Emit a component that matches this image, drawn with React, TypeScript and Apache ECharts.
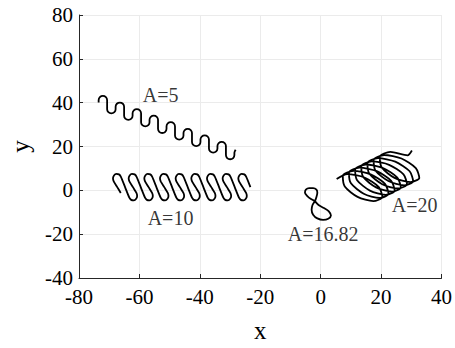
import React, { useEffect, useRef } from "react";
import * as echarts from "echarts";

const A5_X = [
  -73.5, -73.5, -73.09, -72.1, -71.1, -70.69, -70.69, -70.28, -69.29, -68.29,
  -67.88, -67.88, -67.47, -66.48, -65.48, -65.07, -65.07, -64.66, -63.67, -62.67,
  -62.26, -62.26, -61.85, -60.86, -59.86, -59.45, -59.45, -59.04, -58.05, -57.05,
  -56.65, -56.65, -56.24, -55.25, -54.25, -53.84, -53.84, -53.43, -52.44, -51.44,
  -51.03, -51.03, -50.62, -49.63, -48.63, -48.22, -48.22, -47.81, -46.82, -45.82,
  -45.41, -45.41, -45.0, -44.01, -43.01, -42.6, -42.6, -42.19, -41.2, -40.2,
  -39.79, -39.79, -39.38, -38.39, -37.39, -36.98, -36.98, -36.57, -35.58, -34.58,
  -34.17, -34.17, -33.76, -32.77, -31.77, -31.36, -31.36, -30.95, -29.96, -28.96,
  -28.56, -28.56, -28.15];
const A5_Y = [
  40.05, 41.15, 42.5, 43.06, 42.5, 41.15, 37.05, 35.71, 35.15, 35.71,
  37.05, 38.15, 39.5, 40.06, 39.5, 38.15, 34.05, 32.71, 32.15, 32.71,
  34.06, 35.16, 36.51, 37.07, 36.51, 35.16, 31.06, 29.72, 29.16, 29.72,
  31.06, 32.16, 33.51, 34.07, 33.51, 32.16, 28.06, 26.72, 26.16, 26.72,
  28.07, 29.17, 30.52, 31.08, 30.52, 29.17, 25.07, 23.73, 23.17, 23.73,
  25.07, 26.17, 27.52, 28.08, 27.52, 26.17, 22.07, 20.73, 20.17, 20.73,
  22.07, 23.17, 24.52, 25.08, 24.52, 23.17, 19.07, 17.73, 17.17, 17.73,
  19.08, 20.18, 21.53, 22.09, 21.53, 20.18, 16.08, 14.74, 14.18, 14.74,
  16.08, 17.18, 18.53];

const A10_X = [
  -66.18, -67.34, -68.51, -68.75, -68.42, -67.65, -66.77, -66.16, -64.75, -63.34, -62.73, -61.85, -61.08, -60.75,
  -60.99, -62.15, -63.32, -63.56, -63.23, -62.46, -61.58, -60.97, -59.56, -58.15, -57.54, -56.66, -55.89, -55.56,
  -55.81, -56.97, -58.14, -58.38, -58.05, -57.28, -56.4, -55.79, -54.38, -52.97, -52.36, -51.48, -50.71, -50.38,
  -50.62, -51.78, -52.95, -53.19, -52.86, -52.09, -51.21, -50.6, -49.19, -47.78, -47.17, -46.29, -45.52, -45.19,
  -45.44, -46.6, -47.77, -48.01, -47.68, -46.91, -46.03, -45.42, -44.01, -42.6, -41.99, -41.11, -40.34, -40.01,
  -40.25, -41.41, -42.58, -42.82, -42.49, -41.72, -40.84, -40.23, -38.82, -37.41, -36.8, -35.92, -35.15, -34.82,
  -35.06, -36.22, -37.39, -37.63, -37.3, -36.53, -35.65, -35.04, -33.63, -32.22, -31.61, -30.73, -29.96, -29.63,
  -29.88, -31.04, -32.21, -32.45, -32.12, -31.35, -30.47, -29.86, -28.45, -27.04, -26.43, -25.55, -24.78, -24.45,
  -24.69, -25.85, -27.02, -27.26, -26.93, -26.16, -25.28, -24.67, -23.26];
const A10_Y = [
  -1.2, 1.45, 4.1, 5.46, 6.77, 7.48, 7.29, 6.27, 1.46, -3.35, -4.36, -4.56, -3.86, -2.54,
  -1.2, 1.45, 4.1, 5.46, 6.77, 7.48, 7.29, 6.27, 1.46, -3.35, -4.36, -4.56, -3.86, -2.54,
  -1.2, 1.45, 4.1, 5.46, 6.77, 7.48, 7.29, 6.27, 1.46, -3.35, -4.36, -4.56, -3.86, -2.54,
  -1.2, 1.45, 4.1, 5.46, 6.77, 7.48, 7.29, 6.27, 1.46, -3.35, -4.36, -4.56, -3.86, -2.54,
  -1.2, 1.45, 4.1, 5.46, 6.77, 7.48, 7.29, 6.27, 1.46, -3.35, -4.36, -4.56, -3.86, -2.54,
  -1.2, 1.45, 4.1, 5.46, 6.77, 7.48, 7.29, 6.27, 1.46, -3.35, -4.36, -4.56, -3.86, -2.54,
  -1.2, 1.45, 4.1, 5.46, 6.77, 7.48, 7.29, 6.27, 1.46, -3.35, -4.36, -4.56, -3.86, -2.54,
  -1.2, 1.45, 4.1, 5.46, 6.77, 7.48, 7.29, 6.27, 1.46, -3.35, -4.36, -4.56, -3.86, -2.54,
  -1.2, 1.45, 4.1, 5.46, 6.77, 7.48, 7.29, 6.27, 1.46];

const A1682_X = [-1.9, -3.2, -4.5, -5.2, -4.9, -3.8, -2.5, -1.4, -1.1, -1.4, -1.9,
  -2.7, -3.0, -2.5, -1.1, 0.8, 2.5, 3.4, 2.7, 1.1, -0.7, -1.9];
const A1682_Y = [-4.9, -4.0, -2.5, -1.1, 0.3, 1.0, 1.0, 0.3, -1.1, -3.0, -4.9,
  -6.7, -8.9, -11.1, -12.8, -13.5, -13.0, -11.5, -9.6, -8.1, -6.7, -4.9];

const A20_X = [
  5.29, 8.78, 14.5, 19.26, 20.41, 17.44, 12.22, 7.98,
  7.33, 10.82, 16.54, 21.3, 22.45, 19.48, 14.26, 10.02,
  9.37, 12.86, 18.58, 23.34, 24.49, 21.52, 16.3, 12.06,
  11.41, 14.9, 20.62, 25.38, 26.53, 23.56, 18.34, 14.1,
  13.45, 16.94, 22.66, 27.42, 28.57, 25.6, 20.38, 16.14,
  15.49, 18.98, 24.7, 29.46, 30.61, 27.64, 22.42, 18.18,
  17.53, 21.02, 26.74, 31.5, 32.65, 29.68, 24.46, 20.22,
  19.57, 23.06, 28.78, 30.2];
const A20_Y = [
  5.17, 7.43, 5.85, 1.47, -3.05, -4.94, -3.0, 1.74,
  6.62, 8.88, 7.3, 2.92, -1.6, -3.5, -1.56, 3.19,
  8.07, 10.33, 8.75, 4.37, -0.15, -2.05, -0.11, 4.63,
  9.51, 11.78, 10.2, 5.82, 1.3, -0.6, 1.34, 6.08,
  10.96, 13.22, 11.64, 7.27, 2.75, 0.85, 2.79, 7.53,
  12.41, 14.67, 13.09, 8.71, 4.19, 2.3, 4.24, 8.98,
  13.86, 16.12, 14.54, 10.16, 5.64, 3.74, 5.68, 10.43,
  15.31, 17.57, 15.99, 18.2];

const LABEL_TEXT = ["A=5", "A=10", "A=16.82", "A=20"];
const LABEL_X = [-53.0, -49.7, 0.8, 31.1];
const LABEL_Y = [43.7, -12.7, -19.7, -6.8];

const FONT = "Liberation Serif";
const W = 455;
const H = 348;

function pairs(xs: number[], ys: number[]) {
  return xs.map((x, i) => [x, ys[i]]);
}

export default function App() {
  const ref = useRef<HTMLDivElement>(null);
  useEffect(() => {
    if (!ref.current) return;
    document.body.style.margin = "0";
    const chart = echarts.init(ref.current, undefined, { renderer: "svg", width: W, height: H });
    const lineSeries = (name: string, xs: number[], ys: number[]) => ({
      type: "line",
      name,
      data: pairs(xs, ys),
      showSymbol: false,
      symbol: "none",
      smooth: 0.25,
      clip: false,
      lineStyle: { color: "#000", width: 1.8 },
    });
    chart.setOption({
      animation: false,
      backgroundColor: "#fff",
      textStyle: { fontFamily: FONT },
      grid: { left: 73, right: 12, top: 15, bottom: 61, containLabel: false },
      xAxis: {
        type: "value",
        min: -80,
        max: 40,
        interval: 20,
        name: "x",
        nameLocation: "middle",
        nameGap: 40,
        nameTextStyle: { fontFamily: FONT, fontSize: 25, color: "#000" },
        axisLine: { show: true, onZero: false, lineStyle: { color: "#262626", width: 1 } },
        axisTick: { show: true, inside: true, length: 4, lineStyle: { color: "#262626" } },
        axisLabel: { fontFamily: FONT, fontSize: 21, color: "#000", margin: 8 },
        splitLine: { show: true, lineStyle: { color: "#ebebeb", width: 1 } },
      },
      yAxis: {
        type: "value",
        min: -40,
        max: 80,
        interval: 20,
        name: "y",
        nameLocation: "middle",
        nameGap: 46,
        nameTextStyle: { fontFamily: FONT, fontSize: 25, color: "#000" },
        axisLine: { show: true, onZero: false, lineStyle: { color: "#262626", width: 1 } },
        axisTick: { show: true, inside: true, length: 4, lineStyle: { color: "#262626" } },
        axisLabel: { fontFamily: FONT, fontSize: 21, color: "#000", margin: 6 },
        splitLine: { show: true, lineStyle: { color: "#ebebeb", width: 1 } },
      },
      series: [
        lineSeries("A=5", A5_X, A5_Y),
        lineSeries("A=10", A10_X, A10_Y),
        lineSeries("A=16.82", A1682_X, A1682_Y),
        lineSeries("A=20", A20_X, A20_Y),
        {
          type: "scatter",
          symbolSize: 0,
          silent: true,
          data: LABEL_TEXT.map((t, i) => ({ name: t, value: [LABEL_X[i], LABEL_Y[i]] })),
          label: {
            show: true,
            position: "inside",
            formatter: "{b}",
            fontFamily: FONT,
            fontSize: 20,
            color: "#000",
          },
        },
      ],
    });
    return () => chart.dispose();
  }, []);
  return (
    <div
      ref={ref}
      style={{ position: "fixed", left: 0, top: 0, width: W, height: H, background: "#fff" }}
    />
  );
}
